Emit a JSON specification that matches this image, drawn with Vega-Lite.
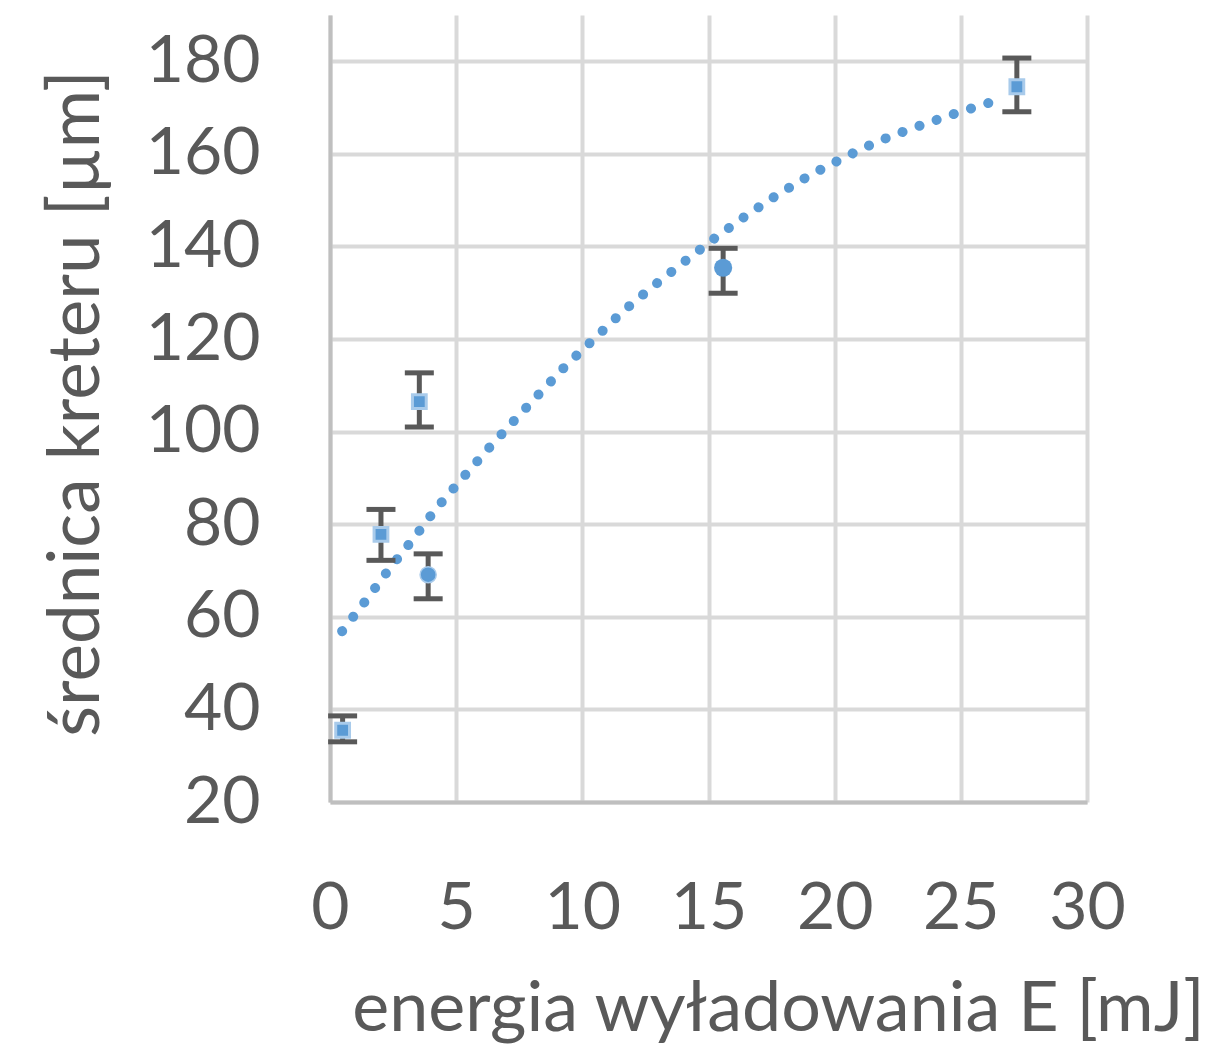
{
  "$schema": "https://vega.github.io/schema/vega-lite/v6.json",
  "autosize": {"type": "none"},
  "padding": {"left": 330, "top": 15, "right": 132, "bottom": 248},
  "width": 757,
  "height": 787,
  "background": "white",
  "config": {"view": {"stroke": null}},
  "datasets": {
    "pts": [
      {"E": 0.50, "d": 35.5, "lo": 33.0, "hi": 38.6, "series": "A"},
      {"E": 2.02, "d": 77.8, "lo": 72.2, "hi": 83.2, "series": "A"},
      {"E": 3.54, "d": 106.5, "lo": 101.0, "hi": 112.7, "series": "A"},
      {"E": 3.89, "d": 69.1, "lo": 63.9, "hi": 73.6, "series": "B"},
      {"E": 15.58, "d": 135.4, "lo": 129.9, "hi": 139.6, "series": "C"},
      {"E": 27.22, "d": 174.5, "lo": 169.1, "hi": 180.7, "series": "A"}
    ],
    "trend": [
      {"E": 0.48, "d": 56.9}, {"E": 1.43, "d": 63.6}, {"E": 2.30, "d": 70.0},
      {"E": 3.25, "d": 76.5}, {"E": 4.21, "d": 83.4}, {"E": 5.24, "d": 89.9},
      {"E": 6.27, "d": 96.3}, {"E": 7.30, "d": 102.4}, {"E": 8.33, "d": 108.4},
      {"E": 9.37, "d": 114.4}, {"E": 10.48, "d": 120.1}, {"E": 11.59, "d": 125.9},
      {"E": 12.78, "d": 131.3}, {"E": 13.97, "d": 136.4}, {"E": 15.20, "d": 141.6},
      {"E": 16.47, "d": 146.6}, {"E": 17.74, "d": 151.2}, {"E": 19.05, "d": 155.5},
      {"E": 20.40, "d": 159.3}, {"E": 21.71, "d": 162.7}, {"E": 23.06, "d": 165.5},
      {"E": 24.44, "d": 168.1}, {"E": 25.79, "d": 170.5}, {"E": 26.59, "d": 171.8}
    ]
  },
  "encoding": {
    "x": {
      "field": "E", "type": "quantitative",
      "scale": {"domain": [0, 30], "nice": false, "zero": false},
      "axis": {
        "values": [0, 5, 10, 15, 20, 25, 30],
        "title": "energia wyładowania E [mJ]",
        "titleFont": "Lato", "titleFontSize": 70, "titleFontWeight": "normal", "titleColor": "#595959",
        "titleX": 448, "titleY": 228, "titleBaseline": "alphabetic", "titleAlign": "center",
        "labelFont": "Lato", "labelFontSize": 66, "labelColor": "#595959",
        "labelBaseline": "alphabetic", "labelPadding": 126,
        "ticks": false, "domain": true, "domainColor": "#BFBFBF", "domainWidth": 4,
        "grid": true, "gridColor": "#D9D9D9", "gridWidth": 4,
        "labelFlush": false, "labelOverlap": false
      }
    },
    "y": {
      "field": "d", "type": "quantitative",
      "scale": {"domain": [20, 190], "nice": false, "zero": false},
      "axis": {
        "values": [20, 40, 60, 80, 100, 120, 140, 160, 180],
        "title": "średnica kreteru [µm]",
        "titleFont": "Lato", "titleFontSize": 71, "titleFontWeight": "normal", "titleColor": "#595959",
        "titleX": -232, "titleY": 388, "titleAngle": 270, "titleBaseline": "alphabetic", "titleAlign": "center",
        "labelFont": "Lato", "labelFontSize": 66, "labelColor": "#595959",
        "labelPadding": 70, "labelBaseline": "middle",
        "ticks": false, "domain": true, "domainColor": "#BFBFBF", "domainWidth": 4,
        "grid": true, "gridColor": "#D9D9D9", "gridWidth": 4,
        "labelFlush": false, "labelOverlap": false
      }
    }
  },
  "layer": [
    {
      "data": {"name": "trend"},
      "mark": {"type": "line", "color": "#5B9BD5", "strokeWidth": 10, "strokeCap": "round", "strokeDash": [0.1, 18]},
      "encoding": {}
    },
    {
      "data": {"name": "pts"},
      "mark": {"type": "rule", "color": "#595959", "strokeWidth": 5},
      "encoding": {"y": {"field": "lo", "type": "quantitative"}, "y2": {"field": "hi"}}
    },
    {
      "data": {"name": "pts"},
      "mark": {"type": "tick", "orient": "horizontal", "color": "#595959", "size": 29, "thickness": 5, "opacity": 1},
      "encoding": {"y": {"field": "lo", "type": "quantitative"}}
    },
    {
      "data": {"name": "pts"},
      "mark": {"type": "tick", "orient": "horizontal", "color": "#595959", "size": 29, "thickness": 5, "opacity": 1},
      "encoding": {"y": {"field": "hi", "type": "quantitative"}}
    },
    {
      "data": {"name": "pts"},
      "mark": {"type": "point", "filled": true, "opacity": 1, "color": "#5B9BD5", "stroke": "#A9CBEB"},
      "encoding": {
        "shape": {"field": "series", "type": "nominal", "scale": {"domain": ["A", "B", "C"], "range": ["square", "circle", "circle"]}, "legend": null},
        "size": {"field": "series", "type": "nominal", "scale": {"domain": ["A", "B", "C"], "range": [190, 330, 600]}, "legend": null},
        "strokeWidth": {"field": "series", "type": "nominal", "scale": {"domain": ["A", "B", "C"], "range": [3, 0, 0]}, "legend": null}
      }
    }
  ]
}
